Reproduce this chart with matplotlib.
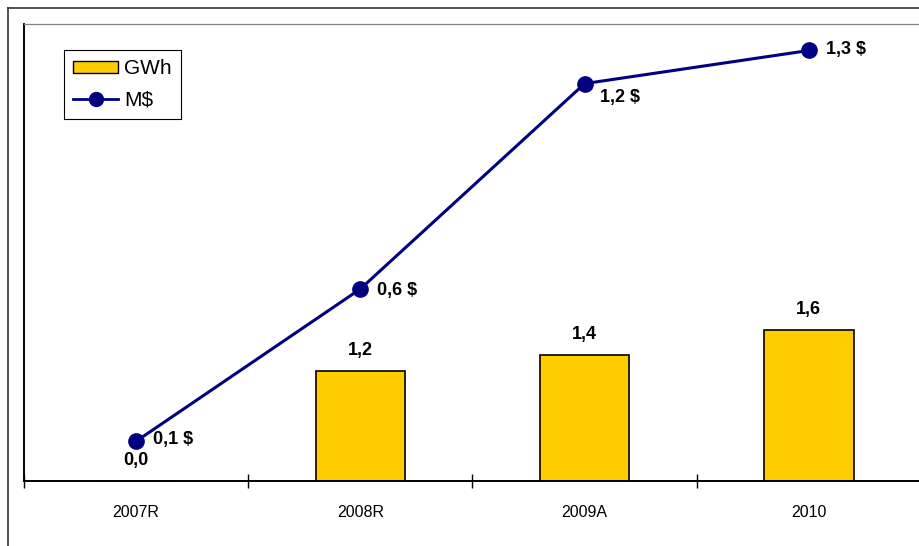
import matplotlib.pyplot as plt
from matplotlib.lines import Line2D

# data
years = ["2007R", "2008R", "2009A", "2010"]
gwh = [0.0, 1.2, 1.38, 1.65]
musd = [0.12, 0.58, 1.2, 1.3]
gwh_labels = ["0,0", "1,2", "1,4", "1,6"]
musd_labels = ["0,1 $", "0,6 $", "1,2 $", "1,3 $"]

W, H = 920, 546
fig = plt.figure(figsize=(W / 100, H / 100), dpi=100)
ax = fig.add_axes([24 / W, (H - 481) / H, 897 / W, 457 / H])
ax2 = ax.twinx()

xs = range(len(years))
ax.bar(xs, gwh, width=0.4, color="#FFCC00", edgecolor="black", linewidth=1.2, zorder=2)
ax.set_xlim(-0.5, 3.5)
ax.set_ylim(0, 5.0)
ax2.set_ylim(0, 1.38)

ax2.plot(xs, musd, color="#000080", linewidth=2.2, marker="o", markersize=11,
         zorder=3)

lab_font = dict(family=["Liberation Sans", "DejaVu Sans"], fontsize=13, fontweight="bold")
for x, v, t in zip(xs, gwh, gwh_labels):
    ax.annotate(t, (x, v), xytext=(0, 15), textcoords="offset points",
                ha="center", va="center", **lab_font)

offsets = [(12, 1), (12, -1), (11, -10), (12, 1)]
for x, v, t, off in zip(xs, musd, musd_labels, offsets):
    ax2.annotate(t, (x, v), xytext=off, textcoords="offset points",
                 ha="left", va="center", **lab_font)

# category axis: ticks between categories, labels at centres
ax.set_xticks([-0.5, 0.5, 1.5, 2.5, 3.5])
ax.set_xticklabels([])
ax.tick_params(axis="x", which="major", direction="inout", length=10, width=1)
ax.set_xticks(list(xs), minor=True)
ax.set_xticklabels(years, minor=True,
                   family=["Liberation Sans Narrow", "Liberation Sans", "DejaVu Sans"],
                   fontsize=11.5)
ax.tick_params(axis="x", which="minor", length=0, pad=17)
ax.set_yticks([])
ax2.set_yticks([])

for a in (ax, ax2):
    a.spines["top"].set_color("#808080")
    a.spines["right"].set_color("#dddddd")
    a.spines["bottom"].set_linewidth(1.2)
    a.spines["left"].set_linewidth(1.2)

handles = [plt.Rectangle((0, 0), 1, 1, facecolor="#FFCC00", edgecolor="black", linewidth=1),
           Line2D([], [], color="#000080", linewidth=2, marker="o", markersize=10)]
leg = ax2.legend(handles, ["GWh", "M$"], loc="upper left",
                 bbox_to_anchor=(40 / 897, 1 - 26 / 457), borderaxespad=0,
                 frameon=True, fancybox=False, edgecolor="black", framealpha=1,
                 prop=dict(family=["Liberation Sans", "DejaVu Sans"], size=15),
                 handlelength=2.15, handleheight=0.55, handletextpad=0.3,
                 labelspacing=0.6, borderpad=0.45)
leg.get_frame().set_linewidth(0.8)

# outer frame of the chart object
fig.add_artist(Line2D([8 / W, 8 / W], [0, (H - 8) / H], color="#333333", linewidth=1.2))
fig.add_artist(Line2D([8 / W, 1], [(H - 8) / H, (H - 8) / H], color="#333333", linewidth=1.2))

fig.savefig("out.png", dpi=100)
